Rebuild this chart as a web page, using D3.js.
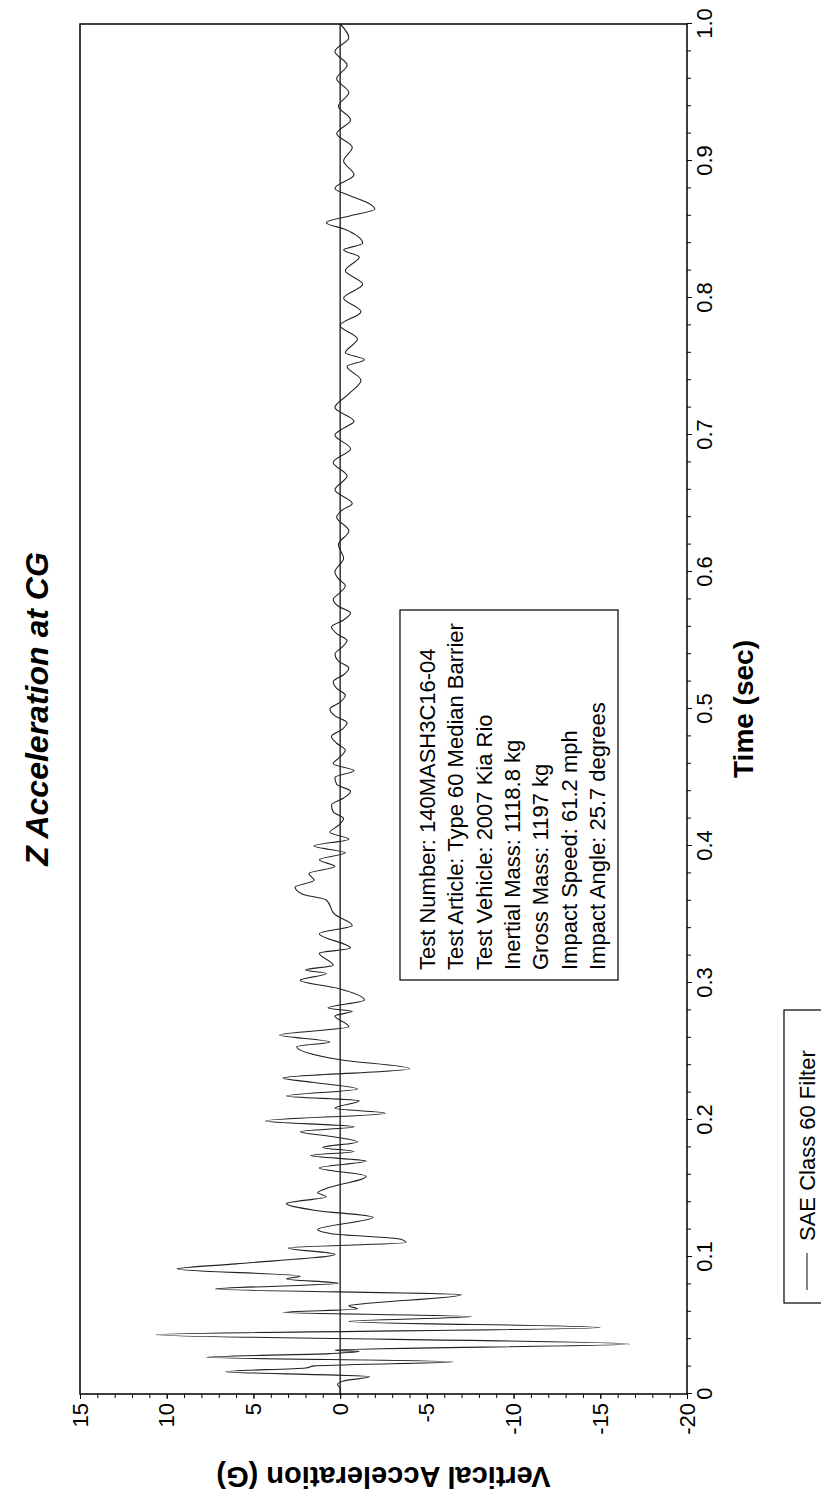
<!DOCTYPE html>
<html>
<head>
<meta charset="utf-8">
<script src="https://cdn.jsdelivr.net/npm/d3@7"></script>
<style>
  body { margin: 0; background: #fff; }
  svg { display: block; font-family: "Liberation Sans", Arial, sans-serif; }
  .axis path, .axis line { stroke: #000; }
  .axis text { font-size: 22px; fill: #000; }
</style>
</head>
<body>
<svg width="821" height="1496"></svg>
<script>
// Data (time in sec, vertical acceleration in G)
var timeSec = [0, 0.004, 0.007, 0.0095, 0.0127, 0.0163, 0.019, 0.0205, 0.0235, 0.0268,
  0.0295, 0.031, 0.032, 0.0365, 0.0433, 0.0485, 0.053, 0.0565, 0.0596, 0.062,
  0.0645, 0.0657, 0.0725, 0.0766, 0.0808, 0.084, 0.086, 0.0912, 0.095, 0.102,
  0.1066, 0.1105, 0.113, 0.117, 0.12, 0.129, 0.134, 0.139, 0.144, 0.147,
  0.15, 0.159, 0.165, 0.17, 0.174, 0.177, 0.18, 0.184, 0.188, 0.1914,
  0.195, 0.1993, 0.205, 0.2086, 0.214, 0.2175, 0.2226, 0.2275, 0.2306, 0.2375,
  0.244, 0.2535, 0.257, 0.262, 0.268, 0.276, 0.2793, 0.2817, 0.2876, 0.296,
  0.302, 0.307, 0.3095, 0.313, 0.3217, 0.3255, 0.336, 0.342, 0.35, 0.3606,
  0.365, 0.37, 0.375, 0.38, 0.385, 0.39, 0.395, 0.4, 0.405, 0.41,
  0.415, 0.42, 0.425, 0.43, 0.435, 0.44, 0.445, 0.45, 0.455, 0.46,
  0.465, 0.47, 0.475, 0.48, 0.485, 0.49, 0.495, 0.5, 0.505, 0.51,
  0.515, 0.52, 0.525, 0.53, 0.535, 0.54, 0.545, 0.55, 0.555, 0.56,
  0.565, 0.57, 0.575, 0.58, 0.585, 0.59, 0.595, 0.6, 0.61, 0.62,
  0.63, 0.64, 0.645, 0.65, 0.66, 0.67, 0.68, 0.69, 0.7, 0.705,
  0.71, 0.72, 0.73, 0.74, 0.75, 0.755, 0.76, 0.77, 0.78, 0.79,
  0.8, 0.81, 0.82, 0.83, 0.835, 0.84, 0.85, 0.855, 0.86, 0.865,
  0.87, 0.875, 0.88, 0.89, 0.9, 0.91, 0.92, 0.93, 0.94, 0.95,
  0.96, 0.97, 0.98, 0.99, 1.0];
var accelG = [0, 0, 0.15, -0.2, -1.7, 6.6, 2.0, 1.5, -6.5, 7.7,
  0.6, -1.1, 0.3, -16.7, 10.6, -15.0, -0.5, -7.6, 3.3, -1.0,
  -0.5, -1.2, -7.0, 7.2, 0.1, 3.1, 2.3, 9.4, 6.0, 0.3,
  3.0, -3.8, -3.5, 0.5, 1.3, -1.9, 1.4, 3.1, 0.8, 1.3,
  0.8, -1.5, 1.2, -1.5, 1.7, -0.8, 1.0, -1.0, 0.5, 2.3,
  -0.8, 4.3, -2.6, 0.3, -1.1, 3.1, -1.0, 1.6, 3.3, -4.0,
  0, 2.5, 0.6, 3.5, -0.5, 0.3, -0.7, 0.7, -1.4, 0.1,
  2.3, 0.8, 2.0, 0.4, 1.2, -0.6, 1.2, -0.7, 0.3, 0.8,
  2.2, 2.6, 1.5, 1.8, 0.3, 1.2, -0.3, 1.5, -0.5, 0.6,
  0.1, -0.2, 0.4, 0.5, -0.2, -0.6, 0.2, 0.3, -0.8, 0.4,
  0.0, -0.3, 0.2, 0.5, -0.1, -0.4, 0.3, 0.6, 0.0, -0.3,
  0.2, 0.4, -0.2, -0.5, 0.1, 0.3, -0.1, -0.4, 0.2, 0.5,
  -0.2, -0.6, 0.1, 0.4, 0.0, -0.3, 0.1, 0.3, -0.2, 0.1,
  -0.5, 0.2, -0.1, -0.7, 0.3, -0.4, 0.4, -0.6, 0.3, -0.2,
  -0.8, 0.3, -0.5, -1.2, -0.4, -1.4, -0.3, -1.0, 0.0, -1.2,
  -0.2, -1.3, -0.3, -1.1, -0.2, -1.3, -0.3, 0.8, -0.6, -2.0,
  -1.5, -0.5, 0.3, -0.8, -0.2, -0.7, 0.2, -0.6, 0.1, -0.5,
  0.2, -0.4, 0.3, -0.5, 0];

var timeTicks = [0, 0.1, 0.2, 0.3, 0.4, 0.5, 0.6, 0.7, 0.8, 0.9, 1.0];
var timeTickLabels = ["0", "0.1", "0.2", "0.3", "0.4", "0.5", "0.6", "0.7", "0.8", "0.9", "1.0"];
var accelTicks = [15, 10, 5, 0, -5, -10, -15, -20];
var accelTickLabels = ["15", "10", "5", "0", "-5", "-10", "-15", "-20"];
var infoLines = [
  "Test Number: 140MASH3C16-04",
  "Test Article: Type 60 Median Barrier",
  "Test Vehicle: 2007 Kia Rio",
  "Inertial Mass: 1118.8 kg",
  "Gross Mass: 1197 kg",
  "Impact Speed: 61.2 mph",
  "Impact Angle: 25.7 degrees"
];
var legendLabel = "SAE Class 60 Filter";
var chartTitle = "Z Acceleration at CG";

// The whole chart is drawn turned a quarter turn counter-clockwise
var W = 1370, H = 607;
var svg = d3.select('svg');
var g = svg.append('g')
  .attr('transform', 'translate(80,1394) rotate(-90)');

var x = d3.scaleLinear().domain([0, 1]).range([0, W]);
var y = d3.scaleLinear().domain([-20, 15]).range([H, 0]);

// minor ticks
g.append('g').attr('class', 'axis')
  .attr('transform', 'translate(0,' + H + ')')
  .call(d3.axisBottom(x).tickValues(d3.range(0, 1.0001, 0.02)).tickSize(4).tickFormat(''))
  .select('.domain').remove();
g.append('g').attr('class', 'axis')
  .call(d3.axisLeft(y).tickValues(d3.range(-20, 15.5, 1)).tickSize(4).tickFormat(''))
  .select('.domain').remove();

// major ticks + labels
g.append('g').attr('class', 'axis')
  .attr('transform', 'translate(0,' + H + ')')
  .call(d3.axisBottom(x).tickValues(timeTicks).tickSize(5).tickPadding(4)
    .tickFormat(function (d, i) { return timeTickLabels[i]; }))
  .select('.domain').remove();
g.append('g').attr('class', 'axis')
  .call(d3.axisLeft(y).tickValues(accelTicks).tickSize(5).tickPadding(4)
    .tickFormat(function (d, i) { return accelTickLabels[i]; }))
  .select('.domain').remove();

// zero line
g.append('line')
  .attr('x1', 0).attr('x2', W)
  .attr('y1', y(0)).attr('y2', y(0))
  .style('stroke', '#000').style('stroke-width', 1.2);

// data line
var line = d3.line()
  .x(function (d, i) { return x(timeSec[i]); })
  .y(function (d) { return y(d); })
  .curve(d3.curveMonotoneX);

g.append('path')
  .datum(accelG)
  .attr('d', line)
  .style('fill', 'none')
  .style('stroke', '#222')
  .style('stroke-width', 1.1);

// frame
g.append('rect')
  .attr('width', W).attr('height', H)
  .style('fill', 'none').style('stroke', '#000').style('stroke-width', 1.5);

// axis titles
g.append('text')
  .attr('x', x(0.5)).attr('y', 666)
  .attr('text-anchor', 'middle').attr('dominant-baseline', 'middle')
  .style('font-size', '28px').style('font-weight', 'bold')
  .text('Time (sec)');

g.append('text')
  .attr('transform', 'translate(-81,' + (H / 2) + ') rotate(-90)')
  .attr('text-anchor', 'middle').attr('dominant-baseline', 'middle')
  .style('font-size', '29px').style('font-weight', 'bold')
  .text('Vertical Acceleration (G)');

// chart title, above the plot in the chart's own orientation
g.append('text')
  .attr('x', x(0.5)).attr('y', -40)
  .attr('text-anchor', 'middle').attr('dominant-baseline', 'middle')
  .style('font-size', '32px').style('font-weight', 'bold').style('font-style', 'italic')
  .text(chartTitle);

// info box
var info = g.append('g').attr('transform', 'translate(414,320)');
info.append('rect')
  .attr('width', 370).attr('height', 218)
  .style('fill', '#fff').style('stroke', '#000').style('stroke-width', 1.2);
info.selectAll('text')
  .data(infoLines)
  .enter().append('text')
  .attr('x', 10)
  .attr('y', function (d, i) { return 35 + i * 28.3; })
  .style('font-size', '22px')
  .text(function (d) { return d; });

// legend
var legend = g.append('g').attr('transform', 'translate(91,704)');
legend.append('rect')
  .attr('width', 293).attr('height', 40)
  .style('fill', '#fff').style('stroke', '#000').style('stroke-width', 1.2);
legend.append('line')
  .attr('x1', 13).attr('x2', 50)
  .attr('y1', 23).attr('y2', 23)
  .style('stroke', '#222').style('stroke-width', 1.1);
legend.append('text')
  .attr('x', 62).attr('y', 31)
  .style('font-size', '22px')
  .text(legendLabel);
</script>
</body>
</html>
